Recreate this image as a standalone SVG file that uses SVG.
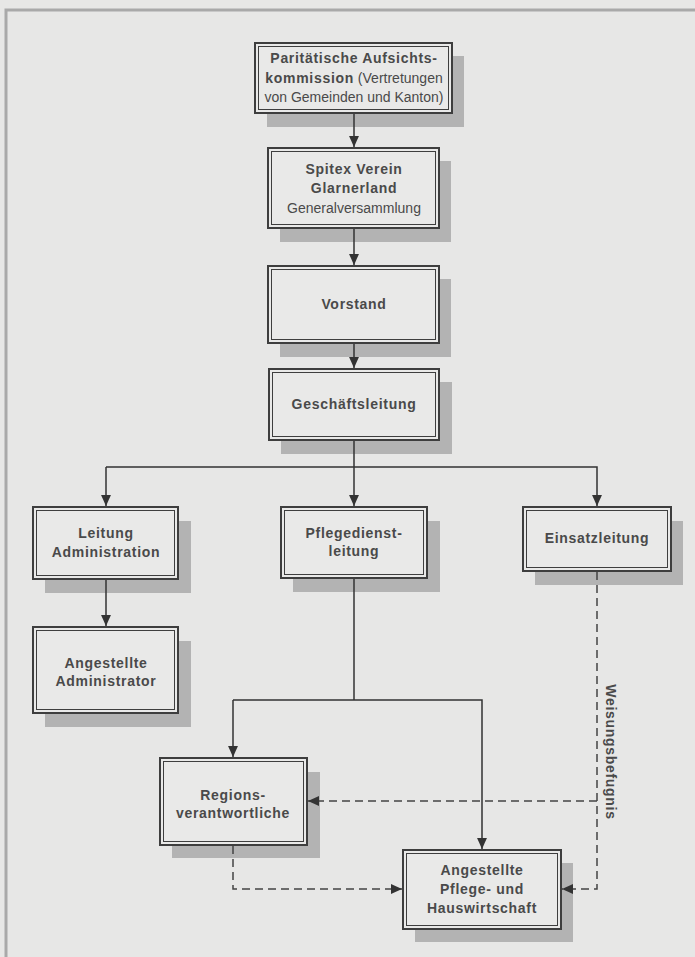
<svg xmlns="http://www.w3.org/2000/svg" width="695" height="957" viewBox="0 0 695 957">
<style>
.bg{fill:#e7e7e6}
.sh{fill:#b3b3b3}
.bo{fill:#e9e9e8;stroke:#3e3e3e;stroke-width:2}
.bi{fill:none;stroke:#3e3e3e;stroke-width:1}
.t{font-family:"Liberation Sans",Arial,sans-serif;font-size:14px;fill:#4a4a4a;text-anchor:middle}
.b{font-weight:bold;letter-spacing:0.7px}
.r{font-weight:normal;letter-spacing:0}
.ln{fill:none;stroke:#333;stroke-width:1.5}
.ds{fill:none;stroke:#444;stroke-width:1.5;stroke-dasharray:8 5}
</style>
<defs>
<marker id="ah" viewBox="0 0 10 10" refX="10" refY="5" markerWidth="11" markerHeight="11" markerUnits="userSpaceOnUse" orient="auto">
<path d="M0,0.5 L10,5 L0,9.5 z" fill="#333"/>
</marker>
</defs>
<rect class="bg" x="0" y="0" width="695" height="957"/>
<rect x="6" y="10" width="700" height="960" fill="none" stroke="#a9a9a9" stroke-width="3"/>

<g id="n1">
<rect class="sh" x="267" y="56" width="197" height="71"/>
<rect class="bo" x="255" y="43" width="197" height="70"/>
<rect class="bi" x="258.5" y="46.5" width="190" height="63"/>
<text class="t b" x="354" y="63">Paritätische Aufsichts-</text>
<text class="t" x="354" y="83"><tspan class="b">kommission</tspan><tspan class="r"> (Vertretungen</tspan></text>
<text class="t r" x="354" y="102">von Gemeinden und Kanton)</text>
</g>

<g id="n2">
<rect class="sh" x="280" y="161" width="171" height="81"/>
<rect class="bo" x="268" y="148" width="171" height="80"/>
<rect class="bi" x="271.5" y="151.5" width="164" height="73"/>
<text class="t b" x="354" y="174">Spitex Verein</text>
<text class="t b" x="354" y="193">Glarnerland</text>
<text class="t r" x="354" y="213">Generalversammlung</text>
</g>

<g id="n3">
<rect class="sh" x="280" y="279" width="171" height="78"/>
<rect class="bo" x="268" y="266" width="171" height="77"/>
<rect class="bi" x="271.5" y="269.5" width="164" height="70"/>
<text class="t b" x="354" y="309">Vorstand</text>
</g>

<g id="n4">
<rect class="sh" x="281" y="382" width="171" height="72"/>
<rect class="bo" x="269" y="369" width="170" height="71"/>
<rect class="bi" x="272.5" y="372.5" width="163" height="64"/>
<text class="t b" x="354" y="409">Geschäftsleitung</text>
</g>

<g id="n5">
<rect class="sh" x="45" y="521" width="146" height="72"/>
<rect class="bo" x="33" y="507" width="145" height="72"/>
<rect class="bi" x="36.5" y="510.5" width="138" height="65"/>
<text class="t b" x="106" y="538">Leitung</text>
<text class="t b" x="106" y="557">Administration</text>
</g>

<g id="n6">
<rect class="sh" x="293" y="521" width="147" height="71"/>
<rect class="bo" x="281" y="507" width="146" height="71"/>
<rect class="bi" x="284.5" y="510.5" width="139" height="64"/>
<text class="t b" x="354" y="538">Pflegedienst-</text>
<text class="t b" x="354" y="556">leitung</text>
</g>

<g id="n7">
<rect class="sh" x="535" y="521" width="148" height="64"/>
<rect class="bo" x="523" y="507" width="148" height="64"/>
<rect class="bi" x="526.5" y="510.5" width="141" height="57"/>
<text class="t b" x="597" y="543">Einsatzleitung</text>
</g>

<g id="n8">
<rect class="sh" x="45" y="641" width="146" height="86"/>
<rect class="bo" x="33" y="627" width="145" height="86"/>
<rect class="bi" x="36.5" y="630.5" width="138" height="79"/>
<text class="t b" x="106" y="668">Angestellte</text>
<text class="t b" x="106" y="686">Administrator</text>
</g>

<g id="n9">
<rect class="sh" x="172" y="772" width="148" height="86"/>
<rect class="bo" x="160" y="758" width="147" height="87"/>
<rect class="bi" x="163.5" y="761.5" width="140" height="80"/>
<text class="t b" x="233" y="800">Regions-</text>
<text class="t b" x="233" y="818">verantwortliche</text>
</g>

<g id="n10">
<rect class="sh" x="415" y="863" width="158" height="79"/>
<rect class="bo" x="403" y="850" width="158" height="79"/>
<rect class="bi" x="406.5" y="853.5" width="151" height="72"/>
<text class="t b" x="482" y="875">Angestellte</text>
<text class="t b" x="482" y="894">Pflege- und</text>
<text class="t b" x="482" y="913">Hauswirtschaft</text>
</g>

<g id="connectors">
<line class="ln" x1="354" y1="114" x2="354" y2="147" marker-end="url(#ah)"/>
<line class="ln" x1="354" y1="229" x2="354" y2="265" marker-end="url(#ah)"/>
<line class="ln" x1="354" y1="344" x2="354" y2="368" marker-end="url(#ah)"/>
<line class="ln" x1="354" y1="441" x2="354" y2="506" marker-end="url(#ah)"/>
<polyline class="ln" points="106,467 597,467 597,506" marker-end="url(#ah)"/>
<line class="ln" x1="106" y1="467" x2="106" y2="506" marker-end="url(#ah)"/>
<line class="ln" x1="106" y1="580" x2="106" y2="626" marker-end="url(#ah)"/>
<line class="ln" x1="354" y1="579" x2="354" y2="700"/>
<polyline class="ln" points="233,700 482,700 482,849" marker-end="url(#ah)"/>
<line class="ln" x1="233" y1="700" x2="233" y2="757" marker-end="url(#ah)"/>
<polyline class="ds" points="597,572 597,889 562,889" marker-end="url(#ah)"/>
<polyline class="ds" points="597,801 308,801" marker-end="url(#ah)"/>
<polyline class="ds" points="233,846 233,889 402,889" marker-end="url(#ah)"/>
<text class="t b" transform="translate(606,752) rotate(90)" font-size="13">Weisungsbefugnis</text>
</g>
</svg>
